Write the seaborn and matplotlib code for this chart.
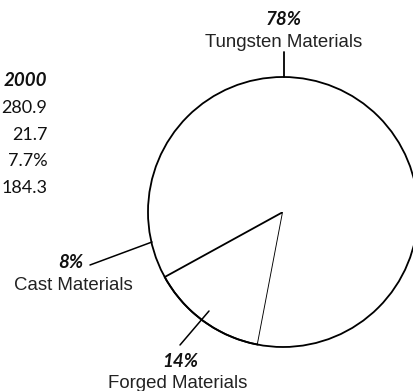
import matplotlib
matplotlib.use("Agg")
import matplotlib.pyplot as plt
import seaborn as sns
from matplotlib.patches import Circle

# ---- data ----
categories = ["Cast Materials", "Forged Materials", "Tungsten Materials"]
shares = [8, 14, 78]
pct_labels = ["8%", "14%", "78%"]
table_values = ["2000", "280.9", "21.7", "7.7%", "184.3"]

sns.set_theme(style="white")
plt.rcParams["font.family"] = ["Liberation Sans", "DejaVu Sans"]

W, H = 414, 391
fig = plt.figure(figsize=(W / 100, H / 100), dpi=100)
fig.patch.set_facecolor("white")
ax = fig.add_axes([0, 0, 1, 1])

cx, cy, R = 283, H - 212, 135
wedges, _ = ax.pie(shares, startangle=180, counterclock=True, center=(cx, cy),
                   radius=R, colors=["white"] * len(shares),
                   wedgeprops=dict(edgecolor="none", linewidth=0))
# only the forged wedge shows its radial boundaries (as in the scan)
wedges[1].set_edgecolor("black")
wedges[1].set_linewidth(1.3)
ax.add_patch(Circle((cx, cy), R, fill=False, edgecolor="black", linewidth=1.3))

ax.set_xlim(0, W)
ax.set_ylim(0, H)
ax.set_aspect("equal")
ax.axis("off")

lab_font = dict(family="Liberation Sans", fontsize=13.4, color="#222222")
pct_font = dict(family="Lato", fontsize=13.5, fontweight="bold", style="italic", color="#111111")

# Tungsten (top)
ax.text(284, H - 25, pct_labels[2], ha="center", va="baseline", **pct_font)
ax.text(284, H - 47, categories[2], ha="center", va="baseline", **lab_font)
ax.plot([284, 284], [H - 52, H - 77], color="black", lw=1.3)

# Cast (left)
ax.text(71, H - 268, pct_labels[0], ha="center", va="baseline", **pct_font)
ax.text(73, H - 290, categories[0], ha="center", va="baseline", **lab_font)
ax.plot([90, 152], [H - 265, H - 242], color="black", lw=1.1)

# Forged (bottom)
ax.text(180, H - 367, pct_labels[1], ha="center", va="baseline", **pct_font)
ax.text(177.5, H - 388, categories[1], ha="center", va="baseline", **lab_font)
ax.plot([180, 209], [H - 345, H - 311], color="black", lw=1.1)

# table column on the left
baselines = [86, 113, 140, 166, 193]
for i, (v, b) in enumerate(zip(table_values, baselines)):
    if i == 0:
        ax.text(47, H - b, v, ha="right", va="baseline", family="Lato",
                fontsize=13.5, fontweight="bold", style="italic", color="#111111")
    else:
        ax.text(47.5, H - b, v, ha="right", va="baseline", family="Lato",
                fontsize=13, color="#111111")

fig.savefig("out.png", dpi=100, facecolor="white")
